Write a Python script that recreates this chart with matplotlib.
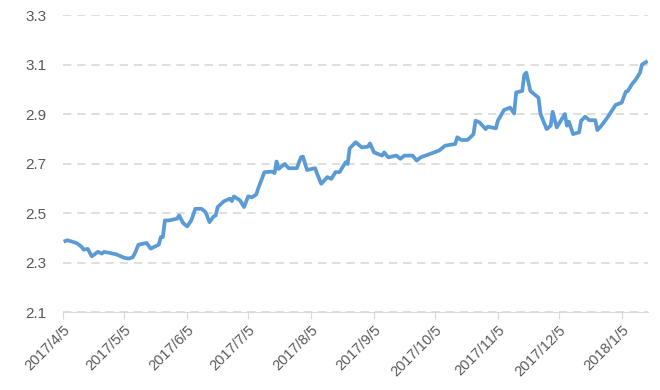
import pandas as pd
import matplotlib
matplotlib.use("Agg")
import matplotlib.pyplot as plt

plt.rcParams['font.family'] = ['Liberation Sans', 'DejaVu Sans']

# values
dates = [
    "2017-04-06", "2017-04-07", "2017-04-11", "2017-04-12", "2017-04-14", "2017-04-15",
    "2017-04-17", "2017-04-19", "2017-04-22", "2017-04-24", "2017-04-25", "2017-04-27",
    "2017-05-01", "2017-05-05", "2017-05-07", "2017-05-09", "2017-05-10", "2017-05-12",
    "2017-05-16", "2017-05-18", "2017-05-22", "2017-05-23", "2017-05-24", "2017-05-25",
    "2017-05-27", "2017-05-31", "2017-06-01", "2017-06-03", "2017-06-05", "2017-06-07",
    "2017-06-09", "2017-06-12", "2017-06-14", "2017-06-16", "2017-06-18", "2017-06-19",
    "2017-06-20", "2017-06-23", "2017-06-26", "2017-06-27", "2017-06-28", "2017-07-01",
    "2017-07-03", "2017-07-05", "2017-07-07", "2017-07-09", "2017-07-10", "2017-07-13",
    "2017-07-17", "2017-07-18", "2017-07-19", "2017-07-20", "2017-07-23", "2017-07-25",
    "2017-07-29", "2017-07-31", "2017-08-01", "2017-08-03", "2017-08-07", "2017-08-08",
    "2017-08-10", "2017-08-13", "2017-08-15", "2017-08-17", "2017-08-19", "2017-08-22",
    "2017-08-23", "2017-08-24", "2017-08-27", "2017-08-30", "2017-09-02", "2017-09-03",
    "2017-09-05", "2017-09-09", "2017-09-10", "2017-09-12", "2017-09-16", "2017-09-18",
    "2017-09-20", "2017-09-24", "2017-09-26", "2017-09-28", "2017-10-07", "2017-10-10",
    "2017-10-15", "2017-10-16", "2017-10-18", "2017-10-21", "2017-10-23", "2017-10-24",
    "2017-10-25", "2017-10-27", "2017-10-30", "2017-10-31", "2017-11-04", "2017-11-05",
    "2017-11-08", "2017-11-11", "2017-11-13", "2017-11-14", "2017-11-17", "2017-11-18",
    "2017-11-19", "2017-11-21", "2017-11-25", "2017-11-26", "2017-11-29", "2017-12-01",
    "2017-12-02", "2017-12-04", "2017-12-08", "2017-12-09", "2017-12-10", "2017-12-12",
    "2017-12-15", "2017-12-16", "2017-12-18", "2017-12-20", "2017-12-23", "2017-12-24",
    "2017-12-26", "2017-12-29", "2018-01-02", "2018-01-05", "2018-01-07", "2018-01-08",
    "2018-01-10", "2018-01-12", "2018-01-14", "2018-01-15", "2018-01-17",
]
values = [
    2.387, 2.390, 2.380, 2.376, 2.363, 2.352,
    2.355, 2.325, 2.343, 2.336, 2.343, 2.340,
    2.333, 2.319, 2.316, 2.320, 2.333, 2.372,
    2.379, 2.356, 2.372, 2.403, 2.403, 2.470,
    2.470, 2.477, 2.490, 2.459, 2.446, 2.470,
    2.517, 2.517, 2.504, 2.463, 2.486, 2.490,
    2.524, 2.547, 2.558, 2.548, 2.567, 2.551,
    2.524, 2.567, 2.564, 2.575, 2.600, 2.665,
    2.667, 2.661, 2.708, 2.678, 2.698, 2.681,
    2.681, 2.725, 2.728, 2.674, 2.681, 2.658,
    2.618, 2.645, 2.638, 2.665, 2.665, 2.705,
    2.698, 2.761, 2.786, 2.765, 2.768, 2.781,
    2.745, 2.732, 2.745, 2.725, 2.732, 2.719,
    2.732, 2.732, 2.712, 2.725, 2.752, 2.772,
    2.779, 2.806, 2.795, 2.795, 2.810, 2.819,
    2.873, 2.866, 2.839, 2.849, 2.842, 2.873,
    2.916, 2.926, 2.902, 2.987, 2.993, 3.058,
    3.067, 2.993, 2.966, 2.900, 2.839, 2.853,
    2.909, 2.846, 2.900, 2.853, 2.869, 2.819,
    2.826, 2.873, 2.889, 2.875, 2.875, 2.835,
    2.853, 2.886, 2.937, 2.946, 2.990, 2.993,
    3.020, 3.040, 3.067, 3.100, 3.110,
]
tick_dates = ["2017-04-05", "2017-05-05", "2017-06-05", "2017-07-05", "2017-08-05",
              "2017-09-05", "2017-10-05", "2017-11-05", "2017-12-05", "2018-01-05"]
tick_labels = ["2017/4/5", "2017/5/5", "2017/6/5", "2017/7/5", "2017/8/5",
               "2017/9/5", "2017/10/5", "2017/11/5", "2017/12/5", "2018/1/5"]
y_ticks = [2.1, 2.3, 2.5, 2.7, 2.9, 3.1, 3.3]

x = pd.to_datetime(dates)
grey = "#595959"

fig = plt.figure(figsize=(6.6, 3.9), dpi=100)
ax = fig.add_axes([0.096, 0.2, 0.886, 0.7615])
ax.plot(x, values, color="#5b9bd5", linewidth=2.7, solid_joinstyle="round")

ax.set_xlim(pd.Timestamp("2017-04-05"), pd.Timestamp("2018-01-18"))
ax.set_ylim(2.1, 3.3)
ax.set_yticks(y_ticks)
ax.set_yticklabels([f"{v:.1f}" for v in y_ticks])
ax.set_xticks(pd.to_datetime(tick_dates))
ax.set_xticklabels(tick_labels, rotation=45, ha="right", rotation_mode="anchor")

ax.grid(axis="y", color="#d9d9d9", linestyle=(0, (5, 3.5)), linewidth=1.2)
ax.set_axisbelow(True)
for side in ["top", "right", "left"]:
    ax.spines[side].set_visible(False)
ax.spines["bottom"].set_color("#d9d9d9")
ax.tick_params(axis="y", length=0, pad=12, labelsize=11, labelcolor=grey)
ax.tick_params(axis="x", length=5, color="#d9d9d9", pad=3, labelsize=10.5, labelcolor=grey)

fig.savefig("out.png", dpi=100)
